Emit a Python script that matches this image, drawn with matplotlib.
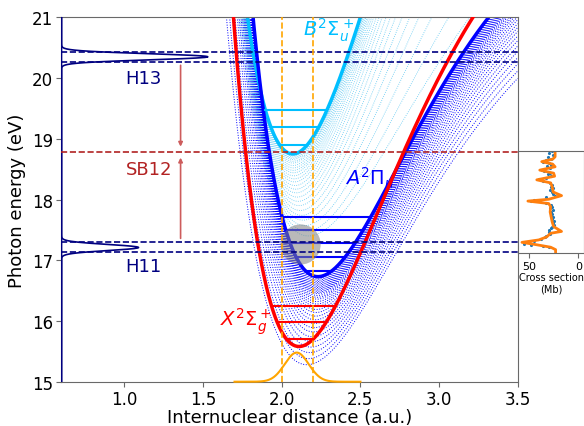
import numpy as np
import matplotlib
matplotlib.use("Agg")
import matplotlib.pyplot as plt
from matplotlib.patches import Ellipse

# Morse parameters: (Te [eV], Re [a.u.], De [eV], a [1/a.u.])
X_STATE = (15.58, 2.11, 8.8, 1.39)
A_STATE = (16.73, 2.23, 7.0, 1.40)
B_STATE = (18.75, 2.07, 15.0, 1.14)
# lowest dotted member of the A and B families
A_LOWEST = (15.28, 2.16, 7.14, 1.25)
B_LOWEST = (17.40, 2.17, 7.2, 1.20)

# minima of the dotted curves
A_FAMILY_MIN = [16.71, 16.69, 16.67, 16.65, 16.63, 16.61, 16.59, 16.57, 16.55,
                16.53, 16.51, 16.49, 16.47, 16.45, 16.42, 16.39, 16.36, 16.32,
                16.28, 16.24, 16.19, 16.14, 16.08, 16.02, 15.96, 15.89, 15.82,
                15.74, 15.66, 15.57, 15.48, 15.38, 15.28]
B_FAMILY_MIN = [18.72, 18.70, 18.68, 18.66, 18.63, 18.60, 18.56, 18.52, 18.48,
                18.44, 18.39, 18.34, 18.29, 18.23, 18.17, 18.11, 18.04, 17.97,
                17.90, 17.82, 17.74, 17.66, 17.57, 17.48, 17.40]

# vibrational levels
X_LEVELS = [15.70, 15.98, 16.24]
A_LEVELS = [16.82, 17.06, 17.29, 17.49, 17.72]
B_LEVELS = [18.89, 19.19, 19.48]

# harmonics / sideband
H13_CENTER, H13_HEIGHT = 20.35, 0.93
H11_CENTER, H11_HEIGHT = 17.21, 0.49
H_WIDTH = 0.05
H13_EDGES = [20.27, 20.435]
H11_EDGES = [17.13, 17.30]
SB12_ENERGY = 18.78

# Franck-Condon region and ground state density
FC_EDGES = [2.0, 2.197]
GS_CENTER, GS_WIDTH, GS_HEIGHT = 2.095, 0.076, 0.48

# inset: measured cross section (dots) and fit (line)
FIT_E = [18.80, 18.70, 18.66, 18.62, 18.58, 18.535, 18.48, 18.43, 18.38, 18.32,
         18.27, 18.21, 18.12, 18.06, 18.00, 17.97, 17.93, 17.88, 17.79, 17.71,
         17.63, 17.55, 17.50, 17.47, 17.44, 17.38, 17.33, 17.29, 17.25, 17.21,
         17.17, 17.11]
FIT_CS = [23.5, 23.5, 26, 37, 26, 23.5, 39, 25, 24, 42,
          28, 26.5, 25.5, 17, 30, 51, 30, 28, 28.5, 27.5,
          26.5, 25, 20, 17, 28, 32, 40, 57, 42, 28,
          23, 23]
DATA_E = [18.79, 18.76, 18.73, 18.70, 18.67, 18.64, 18.62, 18.60, 18.57, 18.55,
          18.52, 18.49, 18.47, 18.44, 18.41, 18.38, 18.35, 18.33, 18.30, 18.27,
          18.24, 18.21, 18.18, 18.15, 18.12, 18.09, 18.06, 18.03, 17.99, 17.97,
          17.94, 17.91, 17.88, 17.85, 17.82, 17.79, 17.76, 17.73, 17.70, 17.67,
          17.64, 17.61, 17.58, 17.55, 17.52, 17.49, 17.46, 17.43, 17.40, 17.37,
          17.34, 17.31, 17.29, 17.27, 17.25, 17.23, 17.22]
DATA_CS = [27, 30, 26, 31, 28, 33, 36, 30, 28, 32,
           29, 37, 35, 29, 31, 28, 33, 40, 36, 29,
           27, 28, 26, 29, 27, 26, 24, 33, 45, 48,
           33, 28, 27, 29, 26, 28, 27, 28, 26, 27,
           25, 26, 25, 27, 28, 30, 30, 29, 33, 34,
           38, 45, 52, 55, 48, 36, 30]


def morse(r, te, re, de, a):
    return te + de * (1 - np.exp(-a * (r - re))) ** 2


def turning_points(e, te, re, de, a):
    s = np.sqrt((e - te) / de)
    return re - np.log(1 + s) / a, re - np.log(1 - s) / a


def family_params(te, top, low):
    # shape changes slowly at first so the curves bunch up near the thick one
    t = ((top[0] - te) / (top[0] - low[0])) ** 2
    return (te,) + tuple(top[i] + t * (low[i] - top[i]) for i in range(1, 4))


fig = plt.figure(figsize=(5.84, 4.27), dpi=100)
ax = fig.add_axes([0.1053, 0.1037, 0.7812, 0.8534])

r = np.linspace(0.6, 3.5, 800)

# dotted families
for te in B_FAMILY_MIN:
    ax.plot(r, morse(r, *family_params(te, B_STATE, B_LOWEST)), ':',
            color='#5ec8f2', lw=0.6, zorder=1)
for te in A_FAMILY_MIN:
    ax.plot(r, morse(r, *family_params(te, A_STATE, A_LOWEST)), ':',
            color='blue', lw=0.7, zorder=1.5)

ax.plot(r, morse(r, *B_STATE), color='deepskyblue', lw=2.5, zorder=2)
ax.plot(r, morse(r, *A_STATE), color='blue', lw=2.5, zorder=2.5)

for e in B_LEVELS:
    ax.plot(turning_points(e, *B_STATE), [e, e], color='deepskyblue', lw=1.5, zorder=3)
for e in A_LEVELS:
    ax.plot(turning_points(e, *A_STATE), [e, e], color='blue', lw=1.5, zorder=3)

ax.add_patch(Ellipse((2.12, 17.26), 0.255, 0.66, color='gray', alpha=0.55,
                     lw=0, zorder=3.5))

ax.plot(r, morse(r, *X_STATE), color='red', lw=2.5, zorder=4)
for e in X_LEVELS:
    ax.plot(turning_points(e, *X_STATE), [e, e], color='red', lw=1.5, zorder=4)

# harmonic spectra
e_grid = np.linspace(15, 21, 1200)
for c, h in [(H13_CENTER, H13_HEIGHT), (H11_CENTER, H11_HEIGHT)]:
    ax.plot(0.6 + h * np.exp(-(e_grid - c) ** 2 / (2 * H_WIDTH ** 2)), e_grid,
            color='navy', lw=1.2, zorder=5)
for e in H13_EDGES + H11_EDGES:
    ax.axhline(e, color='navy', ls='--', lw=1.2, zorder=5)
ax.axhline(SB12_ENERGY, color='firebrick', ls='--', lw=1.2, zorder=5)

ax.annotate('', xy=(1.357, 18.87), xytext=(1.357, 20.21),
            arrowprops=dict(arrowstyle='-|>', color='indianred', lw=1.2,
                            mutation_scale=6, shrinkA=0, shrinkB=0))
ax.annotate('', xy=(1.357, 18.69), xytext=(1.357, 17.36),
            arrowprops=dict(arrowstyle='-|>', color='indianred', lw=1.2,
                            mutation_scale=6, shrinkA=0, shrinkB=0))

# Franck-Condon window
for rr in FC_EDGES:
    ax.axvline(rr, color='orange', ls='--', lw=1.2, zorder=5)
r_gs = np.linspace(1.7, 2.5, 300)
ax.plot(r_gs, 15 + GS_HEIGHT * np.exp(-(r_gs - GS_CENTER) ** 2 / (2 * GS_WIDTH ** 2)),
        color='orange', lw=1.5, zorder=5, clip_on=False)

ax.text(1.12, 20.0, 'H13', color='navy', fontsize=13, ha='center', va='center')
ax.text(1.12, 16.91, 'H11', color='navy', fontsize=13, ha='center', va='center')
ax.text(1.155, 18.5, 'SB12', color='firebrick', fontsize=13, ha='center', va='center')
ax.text(2.30, 20.8, r'$B^2\Sigma_u^+$', color='deepskyblue', fontsize=14,
        ha='center', va='center', zorder=6)
ax.text(2.56, 18.37, r'$A^2\Pi_u$', color='blue', fontsize=14, ha='center', va='center')
ax.text(1.77, 16.0, r'$X^2\Sigma_g^+$', color='red', fontsize=14, ha='center', va='center')

ax.set_xlim(0.6, 3.5)
ax.set_ylim(15, 21)
ax.set_xticks([1.0, 1.5, 2.0, 2.5, 3.0, 3.5])
ax.set_yticks([15, 16, 17, 18, 19, 20, 21])
ax.tick_params(labelsize=12, color='dimgray', pad=2.5)
ax.set_xlabel('Internuclear distance (a.u.)', fontsize=13, labelpad=0)
ax.set_ylabel('Photon energy (eV)', fontsize=13, labelpad=4)
for sp in ax.spines.values():
    sp.set_color('dimgray')

# inset with the cross section
ins = fig.add_axes([0.8875, 0.4045, 0.113, 0.2402])
ins.plot(DATA_CS, DATA_E, '.', color='C0', ms=2.5)
ins.plot(FIT_CS, FIT_E, color='C1', lw=2)
ins.set_xlim(60.7, -6)
ins.set_ylim(17.11, 18.80)
ins.set_xticks([50, 0])
ins.set_yticks([])
ins.tick_params(labelsize=8, color='dimgray', pad=2)
ins.set_xlabel('Cross section\n(Mb)', fontsize=7, labelpad=1)
for sp in ins.spines.values():
    sp.set_color('dimgray')

fig.savefig('out.png', dpi=100)
